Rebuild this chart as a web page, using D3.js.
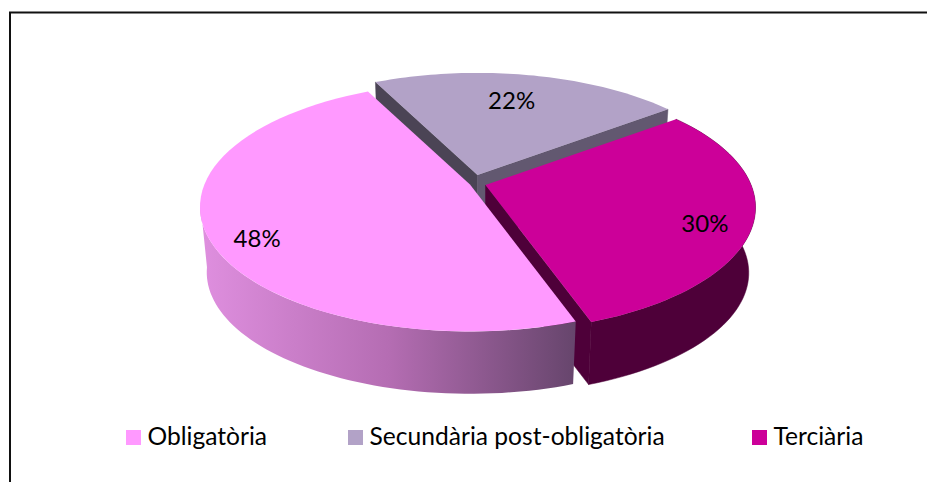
<!DOCTYPE html>
<html>
<head>
<meta charset="utf-8">
<script src="https://cdnjs.cloudflare.com/ajax/libs/d3/7.8.5/d3.min.js"></script>
<style>
  html, body { margin: 0; padding: 0; background: #fff; overflow: hidden; }
  text { font-family: Lato, "Open Sans", sans-serif; fill: #000; }
</style>
</head>
<body>
<svg id="chart" width="927" height="482"></svg>
<script>
// values
var categories = ["Obligatòria", "Secundària post-obligatòria", "Terciària"];
var values = [48, 22, 30];
var topColours = ["#FF99FF", "#B2A2C7", "#CC0099"];

var width = 927, height = 482;
var svg = d3.select("#chart");

// frame, open on the right
svg.append("path")
  .attr("d", "M10,482V12.5H927")
  .attr("fill", "none")
  .attr("stroke", "#111")
  .attr("stroke-width", 2);

// the pie lies on a tilted plane, so the circle goes through a small perspective
var radiusX = 265.6, radiusY = 120.5, tilt = 0.18;
var depth = 66, lowerScale = 0.975;

// tip of each exploded slice on the top face
var tips = [[470, 184.5], [477.5, 175], [485.5, 185]];

function project(tip, angle, r, lower) {
  var X = r * Math.sin(angle), Y = -r * Math.cos(angle);
  var w = 1 - tilt * Y;
  var s = lower ? lowerScale : 1;
  return [
    tip[0] + s * radiusX * X / w,
    tip[1] + (lower ? depth : 0) + s * radiusY * Y / w
  ];
}

function rim(tip, a0, a1, lower) {
  var steps = d3.range(0, 61).map(function(i) { return a0 + (a1 - a0) * i / 60; });
  return steps.map(function(a) { return project(tip, a, 1, lower); });
}

var line = d3.line();

var pie = d3.pie().sort(null)
  .startAngle(160.7 * Math.PI / 180)
  .endAngle((160.7 + 360) * Math.PI / 180);
var slices = pie(values);

// gradient on the outer wall of the big slice
var defs = svg.append("defs");
var grad = defs.append("linearGradient")
  .attr("id", "wallPink")
  .attr("gradientUnits", "userSpaceOnUse")
  .attr("x1", 200).attr("x2", 576).attr("y1", 0).attr("y2", 0);
grad.append("stop").attr("offset", 0).attr("stop-color", "#DF8FDF");
grad.append("stop").attr("offset", 0.5).attr("stop-color", "#B56DB3");
grad.append("stop").attr("offset", 1).attr("stop-color", "#66456C");

function cutWall(tip, angle, colour) {
  svg.append("path")
    .attr("d", line([
      tip,
      project(tip, angle, 1, false),
      project(tip, angle, 1, true),
      project(tip, angle, 0, true)
    ]) + "Z")
    .attr("fill", colour)
    .attr("stroke", colour)
    .attr("stroke-width", 0.5);
}

function outerWall(tip, a0, a1, fill, stroke) {
  svg.append("path")
    .attr("d", line(rim(tip, a0, a1, false).concat(rim(tip, a0, a1, true).reverse())) + "Z")
    .attr("fill", fill)
    .attr("stroke", stroke)
    .attr("stroke-width", 0.5);
}

function topFace(i) {
  var d = slices[i];
  svg.append("path")
    .attr("d", line([tips[i]].concat(rim(tips[i], d.startAngle, d.endAngle, false))) + "Z")
    .attr("fill", topColours[i]);
}

// back to front: grey, then magenta, then pink
cutWall(tips[1], slices[1].startAngle, "#4B4455");
cutWall(tips[1], slices[1].endAngle, "#625870");
topFace(1);

cutWall(tips[2], slices[2].endAngle, "#4E0039");
outerWall(tips[2], slices[2].startAngle, slices[2].endAngle, "#4E0039", "#4E0039");
topFace(2);

// only the part of the pink wall facing us (front half up to the left extreme)
outerWall(tips[0], slices[0].startAngle, 262 * Math.PI / 180, "url(#wallPink)", "none");
topFace(0);

// percentage labels
var labelNudge = [[0, 12], [-9, 9], [1.5, 8]];
slices.forEach(function(d, i) {
  var mid = (d.startAngle + d.endAngle) / 2;
  var p = project(tips[i], mid, 0.82, false);
  svg.append("text")
    .attr("x", p[0] + labelNudge[i][0])
    .attr("y", p[1] + labelNudge[i][1])
    .attr("text-anchor", "middle")
    .attr("dominant-baseline", "central")
    .attr("font-size", 24)
    .text(values[i] + "%");
});

// legend
var legendX = d3.scaleOrdinal().domain(categories).range([126, 348, 752]);
var legend = svg.selectAll("g.legend")
  .data(categories)
  .enter().append("g")
  .attr("class", "legend")
  .attr("transform", function(d) { return "translate(" + legendX(d) + ",430)"; });
legend.append("rect")
  .attr("width", 15).attr("height", 15)
  .attr("fill", function(d, i) { return topColours[i]; });
legend.append("text")
  .attr("x", 21.5).attr("y", 15)
  .attr("font-size", 24.6)
  .text(function(d) { return d; });
</script>
</body>
</html>
